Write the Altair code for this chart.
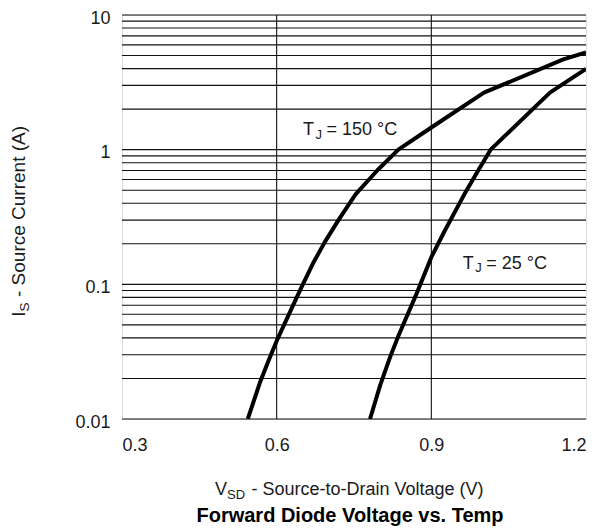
import altair as alt
import pandas as pd

# Series (V_SD in volts, I_S in amps)
v150 = [0.544, 0.567, 0.584, 0.600, 0.632, 0.648, 0.670, 0.693, 0.721, 0.753, 0.795, 0.836, 0.900, 1.002, 1.156, 1.2]
i150 = [0.01, 0.0184, 0.027, 0.038, 0.070, 0.095, 0.142, 0.205, 0.305, 0.466, 0.70, 1.0, 1.46, 2.65, 4.68, 5.27]
v25 = [0.781, 0.801, 0.820, 0.836, 0.871, 0.900, 0.926, 0.964, 0.990, 1.015, 1.130, 1.2]
i25 = [0.01, 0.0179, 0.0288, 0.0413, 0.0846, 0.159, 0.25, 0.466, 0.692, 1.0, 2.65, 3.98]

x_ticks = [0.3, 0.6, 0.9, 1.2]
y_ticks = [0.01, 0.1, 1, 10]
x_grid = [0.6, 0.9]
y_grid = [round(m * 10.0 ** e, 4) for e in (-2, -1, 0) for m in range(1, 10)] + [10]

label_x = [0.651, 0.961]
label_y = [1.276, 0.13]
label_main = ["= 150 °C", "= 25 °C"]

FONT = "Liberation Sans"
INK = "#1a1a1a"
W, H = 464, 404

rows = []
for k, (vs, cs) in enumerate([(v150, i150), (v25, i25)]):
    for j, (v, c) in enumerate(zip(vs, cs)):
        rows.append({"series": ["150", "25"][k], "order": j, "v": v, "i": c})
curves = pd.DataFrame(rows)

xs = alt.Scale(domain=[0.3, 1.2], nice=False, zero=False)
ys = alt.Scale(type="log", domain=[0.01, 10], nice=False)

xaxis = alt.Axis(values=x_ticks, format=".1f", title=None, grid=False, ticks=False, domain=False,
                 labelFont=FONT, labelFontSize=18, labelColor=INK, labelPadding=17)
yaxis = alt.Axis(values=y_ticks, format="~g", title=None, grid=False, ticks=False, domain=False,
                 labelFont=FONT, labelFontSize=18, labelColor=INK, labelPadding=12, labelOffset=3)

hgrid = alt.Chart(pd.DataFrame({"g": y_grid})).mark_rule(color="#111111", strokeWidth=1.1).encode(
    y=alt.Y("g:Q", scale=ys, axis=yaxis)
)
vgrid = alt.Chart(pd.DataFrame({"g": x_grid})).mark_rule(color="#111111", strokeWidth=1.1).encode(
    x=alt.X("g:Q", scale=xs, axis=xaxis)
)

lines = alt.Chart(curves).mark_line(color="black", strokeWidth=4, strokeJoin="round",
                                    interpolate="linear", clip=True).encode(
    x=alt.X("v:Q", scale=xs, axis=xaxis),
    y=alt.Y("i:Q", scale=ys, axis=yaxis),
    detail="series:N",
    order="order:Q",
)

lab = pd.DataFrame({"x": label_x, "y": label_y, "main": label_main})
base_lab = alt.Chart(lab)
enc = dict(x=alt.X("x:Q", scale=xs), y=alt.Y("y:Q", scale=ys))
lab_T = base_lab.mark_text(text="T", font=FONT, fontSize=18, align="left", baseline="alphabetic",
                           color=INK).encode(**enc)
lab_J = base_lab.mark_text(text="J", font=FONT, fontSize=13, align="left", baseline="alphabetic",
                           dx=12.5, dy=3.5, color=INK).encode(**enc)
lab_M = base_lab.mark_text(font=FONT, fontSize=18, align="left", baseline="alphabetic",
                           dx=23.5, color=INK).encode(text="main:N", **enc)

one = alt.Chart(pd.DataFrame({"k": [0]}))
# x-axis title with subscript
xt_V = one.mark_text(text="V", font=FONT, fontSize=18, align="left", baseline="alphabetic", color=INK).encode(
    x=alt.value(93), y=alt.value(480))
xt_SD = one.mark_text(text="SD", font=FONT, fontSize=13, align="left", baseline="alphabetic", color=INK).encode(
    x=alt.value(105), y=alt.value(483.5))
xt_M = one.mark_text(text="- Source-to-Drain Voltage (V)", font=FONT, fontSize=18, align="left",
                     baseline="alphabetic", color=INK).encode(x=alt.value(129.5), y=alt.value(480))
# chart title
tt = one.mark_text(text="Forward Diode Voltage vs. Temp", font=FONT, fontSize=20, fontWeight="bold",
                   align="center", baseline="alphabetic", color="black").encode(x=alt.value(228), y=alt.value(507))
# y-axis title with subscript (rotated)
yt_I = one.mark_text(text="I", font=FONT, fontSize=19, align="left", baseline="alphabetic", angle=270,
                     color=INK).encode(x=alt.value(-97), y=alt.value(301.7))
yt_S = one.mark_text(text="S", font=FONT, fontSize=13.5, align="left", baseline="alphabetic", angle=270,
                     color=INK).encode(x=alt.value(-93.5), y=alt.value(296.4))
yt_M = one.mark_text(text="- Source Current (A)", font=FONT, fontSize=19, align="left", baseline="alphabetic",
                     angle=270, color=INK).encode(x=alt.value(-97), y=alt.value(282))

chart = alt.layer(
    hgrid, vgrid, lines, lab_T, lab_J, lab_M, xt_V, xt_SD, xt_M, tt, yt_I, yt_S, yt_M
).properties(
    width=W, height=H,
    autosize=alt.AutoSizeParams(type="none"),
    padding={"left": 114, "top": 7, "right": 7, "bottom": 108},
).configure_view(
    stroke="black", strokeWidth=2.7
).configure(background="white")

chart.save("out.html", embed_options={"renderer": "svg", "actions": False})
